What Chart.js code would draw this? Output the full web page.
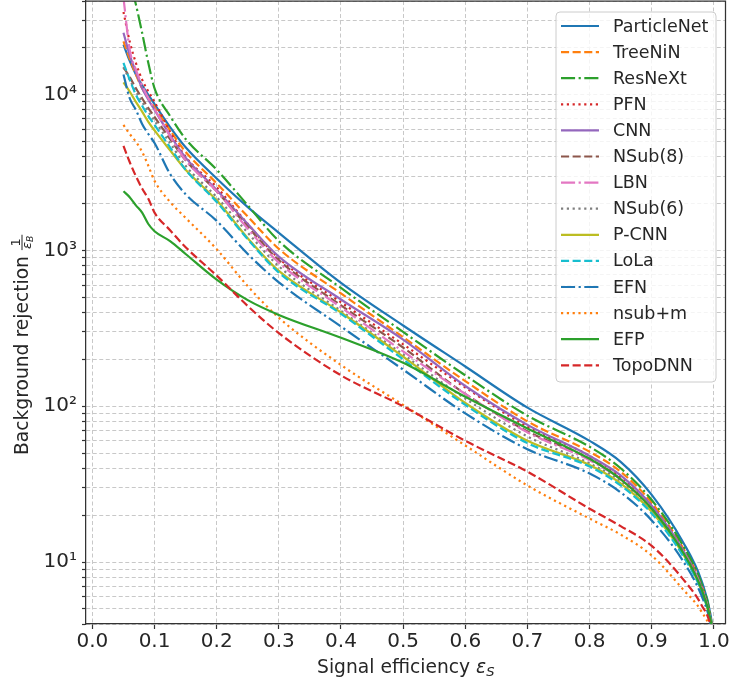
<!DOCTYPE html>
<html>
<head>
<meta charset="utf-8">
<script src="https://cdn.jsdelivr.net/npm/chart.js@4.4.0/dist/chart.umd.min.js"></script>
<style>
  html, body { margin: 0; padding: 0; background: #fff; }
</style>
</head>
<body>
<canvas id="roc" width="729" height="681"></canvas>
<script>
// signal efficiency (x) shared by every curve
const efficiency = [0.05, 0.06, 0.07, 0.08, 0.09, 0.1, 0.125, 0.15, 0.2, 0.25, 0.3, 0.4, 0.5, 0.6, 0.7, 0.8, 0.85, 0.9, 0.95, 0.98, 0.995, 1.0];

// background rejection 1/eps_B
const particleNet = [21000, 16500, 13500, 11500, 10000, 8700, 6200, 4600, 2900, 1900, 1300, 620, 330, 180, 98, 60, 44, 27, 13.5, 7.6, 4.5, 3];
const treeNiN     = [22000, 17000, 13500, 11000, 9500, 8300, 5900, 4300, 2700, 1650, 1025, 530, 278, 145, 80, 51, 38, 24, 12.4, 7.1, 4.3, 3];
const resNeXt     = [90000, 55000, 38000, 25000, 16000, 11000, 7300, 5200, 3300, 1950, 1150, 575, 300, 158, 87, 55, 40, 25, 12.8, 7.3, 4.4, 3];
const pfn         = [34000, 22000, 16000, 12500, 10500, 9000, 5800, 4000, 2550, 1480, 890, 465, 250, 132, 74, 48, 35, 23, 12, 6.9, 4.2, 3];
const cnn         = [25000, 18000, 14000, 11000, 9300, 8000, 5500, 3950, 2450, 1480, 914, 485, 268, 135, 76, 48, 36, 23, 12, 6.9, 4.2, 3];
const nsub8       = [15000, 13000, 11000, 9500, 8200, 7200, 5200, 3800, 2400, 1420, 867, 445, 238, 120, 69, 46, 34, 22, 11.7, 6.8, 4.2, 3];
const lbn         = [42000, 19500, 14500, 11500, 9500, 8100, 5400, 3800, 2400, 1380, 836, 432, 225, 120, 68, 45, 34, 22, 11.7, 6.8, 4.2, 3];
const nsub6       = [15000, 12500, 10500, 9000, 7800, 6800, 4900, 3500, 2200, 1300, 792, 410, 215, 112, 64, 43, 33, 21.5, 11.5, 6.7, 4.2, 3];
const pcnn        = [12000, 10500, 9000, 7800, 6700, 5900, 4400, 3300, 2100, 1200, 740, 400, 208, 105, 60, 42, 32, 21, 11.3, 6.6, 4.1, 3];
const lola        = [16000, 12500, 10000, 8500, 7300, 6400, 4600, 3300, 2050, 1180, 722, 392, 200, 102, 58, 41, 31, 20.5, 11, 6.5, 4.1, 3];
const efn         = [13500, 9500, 8000, 6500, 5600, 4900, 3100, 2300, 1550, 950, 625, 325, 172, 90, 53, 37, 28, 18.5, 10.2, 6.1, 4, 3];
const nsubM       = [6400, 5600, 5000, 4300, 3500, 2800, 2050, 1620, 1020, 590, 370, 184, 102, 56, 31, 19, 15, 11, 6.7, 4.8, 3.5, 2.5];
const efp         = [2400, 2200, 1950, 1750, 1480, 1330, 1150, 950, 650, 480, 386, 275, 190, 115, 72, 46, 34, 22, 11.6, 6.7, 4.2, 3];
const topoDNN     = [4700, 3700, 3000, 2500, 2150, 1750, 1350, 1050, 690, 440, 295, 158, 100, 60, 38, 22, 17, 12.7, 7.8, 5.3, 3.8, 2.7];

const seriesNames = ['ParticleNet', 'TreeNiN', 'ResNeXt', 'PFN', 'CNN', 'NSub(8)', 'LBN', 'NSub(6)', 'P-CNN', 'LoLa', 'EFN', 'nsub+m', 'EFP', 'TopoDNN'];
const seriesValues = [particleNet, treeNiN, resNeXt, pfn, cnn, nsub8, lbn, nsub6, pcnn, lola, efn, nsubM, efp, topoDNN];

const xTicks = [0.0, 0.1, 0.2, 0.3, 0.4, 0.5, 0.6, 0.7, 0.8, 0.9, 1.0];
const yTicks = [4, 5, 6, 7, 8, 9, 10, 20, 30, 40, 50, 60, 70, 80, 90,
  100, 200, 300, 400, 500, 600, 700, 800, 900,
  1000, 2000, 3000, 4000, 5000, 6000, 7000, 8000, 9000, 10000, 20000, 30000, 40000];

// matplotlib default colour / linestyle cycle
const palette = ['#1f77b4', '#ff7f0e', '#2ca02c', '#d62728', '#9467bd', '#8c564b', '#e377c2', '#7f7f7f', '#bcbd22', '#17becf'];
const dashes = [[], [8.1, 3.5], [14.1, 3.5, 2.2, 3.5], [2.2, 3.6]];
const FONT = '"DejaVu Sans", sans-serif';
const TEXT = '#262626';

const supers = {1: '\u00b9', 2: '\u00b2', 3: '\u00b3', 4: '\u2074'};

const frame = {
  id: 'frame',
  afterDraw(chart) {
    const {ctx, chartArea: a} = chart;
    ctx.save();
    ctx.strokeStyle = '#333';
    ctx.lineWidth = 1.25;
    ctx.beginPath();
    ctx.moveTo(a.left, a.top);
    ctx.lineTo(a.right, a.top);
    ctx.lineTo(a.right, a.bottom);
    ctx.stroke();
    ctx.restore();
  }
};

const legendBox = {
  id: 'legendBox',
  afterDatasetsDraw(chart) {
    const {ctx, chartArea: a} = chart;
    const w = 160, h = 370;
    const x0 = a.right - 9.5 - w, y0 = a.top + 11;
    const r = 4;
    ctx.save();
    ctx.beginPath();
    ctx.moveTo(x0 + r, y0);
    ctx.arcTo(x0 + w, y0, x0 + w, y0 + h, r);
    ctx.arcTo(x0 + w, y0 + h, x0, y0 + h, r);
    ctx.arcTo(x0, y0 + h, x0, y0, r);
    ctx.arcTo(x0, y0, x0 + w, y0, r);
    ctx.closePath();
    ctx.fillStyle = 'rgba(255,255,255,0.8)';
    ctx.fill();
    ctx.strokeStyle = '#cccccc';
    ctx.lineWidth = 1;
    ctx.stroke();

    ctx.font = '17.5px ' + FONT;
    ctx.textBaseline = 'middle';
    chart.data.datasets.forEach((ds, i) => {
      const y = y0 + 14 + i * 26.1;
      ctx.strokeStyle = ds.borderColor;
      ctx.lineWidth = ds.borderWidth;
      ctx.setLineDash(ds.borderDash);
      ctx.beginPath();
      ctx.moveTo(x0 + 5, y);
      ctx.lineTo(x0 + 43, y);
      ctx.stroke();
      ctx.setLineDash([]);
      ctx.fillStyle = TEXT;
      ctx.fillText(ds.label, x0 + 57, y + 1);
    });
    ctx.restore();
  }
};

const axisTitles = {
  id: 'axisTitles',
  afterDraw(chart) {
    const {ctx, chartArea: a} = chart;
    const fs = 18.7;
    ctx.save();
    ctx.fillStyle = TEXT;
    ctx.textBaseline = 'alphabetic';

    // x title: Signal efficiency eps_S
    ctx.font = fs + 'px ' + FONT;
    const t1 = 'Signal efficiency ';
    const w1 = ctx.measureText(t1).width;
    ctx.font = 'italic ' + fs + 'px ' + FONT;
    const w2 = ctx.measureText('\u03b5').width;
    ctx.font = 'italic ' + (fs * 0.7) + 'px ' + FONT;
    const w3 = ctx.measureText('S').width;
    let x = (a.left + a.right) / 2 - (w1 + w2 + w3) / 2;
    const by = 672.5;
    ctx.font = fs + 'px ' + FONT;
    ctx.fillText(t1, x, by);
    x += w1;
    ctx.font = 'italic ' + fs + 'px ' + FONT;
    ctx.fillText('\u03b5', x, by);
    x += w2;
    ctx.font = 'italic ' + (fs * 0.7) + 'px ' + FONT;
    ctx.fillText('S', x, by + 3.5);

    // y title: Background rejection 1/eps_B (rotated, reads bottom to top)
    ctx.font = fs + 'px ' + FONT;
    const m = 'Background rejection ';
    const wm = ctx.measureText(m).width;
    const ff = fs * 0.7;
    ctx.font = 'italic ' + ff + 'px ' + FONT;
    const we = ctx.measureText('\u03b5').width;
    ctx.font = 'italic ' + (ff * 0.7) + 'px ' + FONT;
    const wb = ctx.measureText('B').width;
    const wf = we + wb + 2;
    ctx.translate(27.5, 455);
    ctx.rotate(-Math.PI / 2);
    let s = 0;
    ctx.font = fs + 'px ' + FONT;
    ctx.fillText(m, s, 0);
    s += wm;
    const barY = -5.5;
    ctx.fillRect(s, barY - 0.5, wf, 1);
    ctx.font = ff + 'px ' + FONT;
    const w1n = ctx.measureText('1').width;
    ctx.fillText('1', s + wf / 2 - w1n / 2, barY - 2);
    ctx.font = 'italic ' + ff + 'px ' + FONT;
    ctx.fillText('\u03b5', s + 1, barY + 8.5);
    ctx.font = 'italic ' + (ff * 0.7) + 'px ' + FONT;
    ctx.fillText('B', s + 1 + we, barY + 10.5);
    ctx.restore();
  }
};

new Chart(document.getElementById('roc'), {
  type: 'line',
  data: {
    datasets: seriesNames.map((name, i) => ({
      label: name,
      data: efficiency.map((e, j) => ({x: e, y: seriesValues[i][j]})),
      borderColor: palette[i % palette.length],
      borderDash: dashes[i % dashes.length],
      borderWidth: 2.2,
      pointRadius: 0,
      fill: false,
      cubicInterpolationMode: 'monotone',
      order: seriesNames.length - i
    }))
  },
  options: {
    responsive: false,
    animation: false,
    layout: {padding: {top: 1, right: 3.5, left: 0, bottom: 0}},
    plugins: {legend: {display: false}, tooltip: {enabled: false}},
    scales: {
      x: {
        type: 'linear',
        min: -0.0103,
        max: 1.0187,
        afterBuildTicks: s => { s.ticks = xTicks.map(v => ({value: v})); },
        afterFit: s => { s.height = 57; s.paddingLeft = 0; s.paddingRight = 0; },
        ticks: {
          callback: v => v.toFixed(1),
          font: {family: FONT, size: 20},
          color: TEXT,
          padding: 1,
          maxRotation: 0,
          autoSkip: false
        },
        grid: {color: '#c8c8c8', lineWidth: 1, tickLength: 5, tickColor: '#333', tickWidth: 1.2, tickBorderDash: []},
        border: {color: '#333', width: 1.25, dash: [4, 2.5]}
      },
      y: {
        type: 'logarithmic',
        min: 4,
        max: 40000,
        afterBuildTicks: s => { s.ticks = yTicks.map(v => ({value: v})); },
        afterFit: s => { s.width = 86; s.paddingTop = 0; s.paddingBottom = 0; },
        ticks: {
          callback: v => {
            const p = Math.log10(v);
            return Math.abs(p - Math.round(p)) < 1e-9 ? '10' + supers[Math.round(p)] : '';
          },
          font: {family: FONT, size: 20},
          color: TEXT,
          padding: 5,
          autoSkip: false
        },
        grid: {color: '#c8c8c8', lineWidth: 1, tickLength: 4, tickColor: '#333', tickWidth: 1.2, tickBorderDash: []},
        border: {color: '#333', width: 1.25, dash: [4, 2.5]}
      }
    }
  },
  plugins: [frame, legendBox, axisTitles]
});
</script>
</body>
</html>
